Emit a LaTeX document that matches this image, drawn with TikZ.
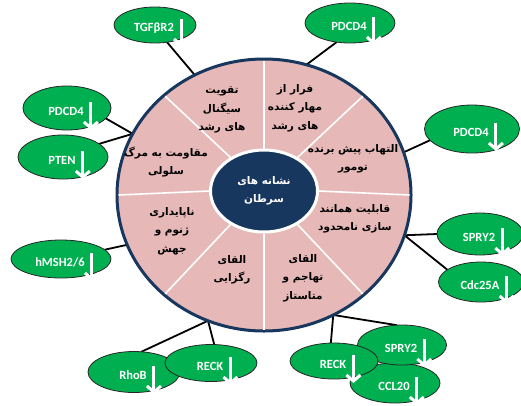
\documentclass[tikz,border=0pt]{standalone}
\usepackage{fontspec}
\usepackage{tikz}
\usetikzlibrary{calc,shapes.geometric,arrows.meta,backgrounds}
\TeXXeTstate=1
\newfontfamily\farsi[Script=Arabic]{DejaVu Sans}
\newfontfamily\genefont{Carlito}
\definecolor{navy}{HTML}{17375E}
\definecolor{pinkfill}{HTML}{E6B9B8}
\definecolor{genegreen}{HTML}{00B050}
\tikzset{
  ring/.style={ellipse, draw=navy, line width=3, fill=pinkfill, inner sep=0, outer sep=0},
  core/.style={ellipse, draw=white, line width=3, fill=navy, text=white, inner sep=0, outer sep=0, align=center,
    font=\farsi\bfseries\fontsize{10.5}{18}\selectfont},
  sector/.style={align=center, inner sep=0, font=\farsi\bfseries\fontsize{10.5}{18.5}\selectfont},
  gene/.style={ellipse, draw=black!85, line width=0.8, fill=genegreen, inner sep=0, outer sep=0},
  genetext/.style={text=white, inner sep=0, font=\genefont\bfseries\fontsize{12.5}{12}\selectfont},
  genearrow/.style={white, line width=3, -{Straight Barb[length=6pt,width=14pt]}},
  conn/.style={draw=black, line width=1.8}
}
\def\gene(#1)(#2:#3)#4#5{%
  \node[gene, minimum width=#2, minimum height=#3] (#4) at (#1) {};
  \node[genetext] (#4-t) at ($(#4)+(-1,3)$) {#5};
  \draw[genearrow] ($(#4-t.east)+(7,-9)$) -- ++(0,28);
}

\begin{document}
\begin{tikzpicture}[x=1pt, y=-1pt]
			%%%%% START %%%%%
			\useasboundingbox (0,0) rectangle (521,405);
			
			\node[ring, minimum width=294, minimum height=272] (ring) at (264,195) {};
			\node[core, minimum width=107, minimum height=82] (core) at (264,191)
				{\beginR نشانه های\endR\\\beginR سرطان\endR};
			
			\foreach \a in {0,45,...,315}
				\draw[white, line width=1.6] ($(core.\a)!-1.5pt!(core.center)$) -- ($(ring.\a)!1.5pt!(ring.center)$);
			
			\node[sector] (s1) at (222,110) {\beginR تقویت\endR\\\beginR سیگنال\endR\\\beginR های رشد\endR};
			\node[sector] (s2) at (295,108) {\beginR فرار از\endR\\\beginR مهار کننده\endR\\\beginR های رشد\endR};
			\node[sector] (s3) at (353,159) {\beginR التهاب پیش برنده\endR\\\beginR تومور\endR};
			\node[sector] (s4) at (355,219) {\beginR قابلیت همانند\endR\\\beginR سازی نامحدود\endR};
			\node[sector] (s5) at (303,278) {\beginR القای\endR\\\beginR تهاجم و\endR\\\beginR متاستاز\endR};
			\node[sector] (s6) at (232,270) {\beginR القای\endR\\\beginR رگزایی\endR};
			\node[sector] (s7) at (172,231) {\beginR ناپایداری\endR\\\beginR ژنوم و\endR\\\beginR جهش\endR};
			\node[sector] (s8) at (166,162) {\beginR مقاومت به مرگ\endR\\\beginR سلولی\endR};
			
			% genes
			\gene(155,25)(82:36){tgf}{TGFβR2}
			\gene(350,23)(90:40){pda}{PDCD4}
			\gene(67,108)(88:44){pdb}{PDCD4}
			\gene(63,157)(90:44){pten}{PTEN}
			\gene(472,129)(95:48){pdc}{PDCD4}
			\gene(61,259)(100:38){hmsh}{hMSH2/6}
			\gene(480,234)(86:42){spa}{SPRY2}
			\gene(481,282)(85:40){cdc}{Cdc25A}
			\gene(134,372)(92:41){rhob}{RhoB}
			\gene(211,363)(92:37){recka}{RECK}
			\gene(395,383)(90:40){ccl}{CCL20}
			\gene(402,345)(89:40){spb}{SPRY2}
			\gene(334,361)(88:36){reckb}{RECK}
			
			\begin{scope}[on background layer]
				\draw[conn] (tgf.-55) -- (ring.120);
				\draw[conn] (pda.-125) -- (ring.72);
				\draw[conn] (pdb.-15) -- (ring.155) -- (pten.20);
				\draw[conn] (pdc.195) -- (ring.17);
				\draw[conn] (hmsh.12) -- (ring.200);
				\draw[conn] (spa.180) -- (ring.-16) -- (cdc.160);
				\draw[conn] (rhob.70) -- (ring.246) -- (recka.80);
				\draw[conn] (reckb.100) -- (ring.-60) -- (spb.105);
			\end{scope}
			
			%%%%% END %%%%%
\end{tikzpicture}
\end{document}
